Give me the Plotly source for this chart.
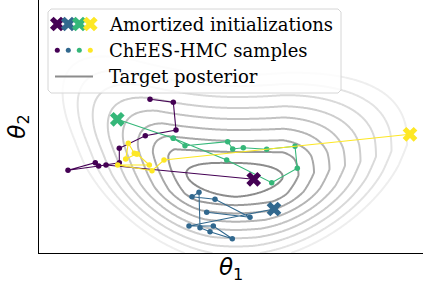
import numpy as np
import plotly.graph_objects as go

# ---------------- data (theta units) ----------------
init_colors = ["#440154", "#31688e", "#35b779", "#fde725"]

init_t1 = [2.147, 2.35, 0.783, 3.71]
init_t2 = [0.737, 0.44, 1.337, 1.187]

purple_t1 = [0.67, 0.29, 0.563, 0.597, 0.803, 0.803, 1.063, 1.37, 1.343, 1.11]
purple_t2 = [0.88, 0.827, 0.903, 0.87, 0.903, 1.047, 1.173, 1.23, 1.507, 1.537]

blue_t1 = [1.50, 1.743, 1.933, 1.71, 1.61, 1.60, 1.53, 1.76, 2.11, 1.677]
blue_t2 = [0.27, 0.27, 0.143, 0.213, 0.253, 0.607, 0.563, 0.537, 0.357, 0.407]

green_t1 = [1.343, 1.46, 1.887, 1.937, 2.043, 2.277, 2.56, 2.583, 2.327, 1.877, 1.343]
green_t2 = [1.147, 1.073, 1.113, 1.04, 1.053, 1.037, 1.067, 0.847, 0.703, 0.93, 1.147]

yellow_t1 = [1.25, 1.13, 0.787, 1.103, 0.983, 0.953, 0.893, 0.867, 0.973]
yellow_t2 = [0.93, 0.823, 0.88, 0.88, 0.99, 0.997, 1.097, 0.94, 0.99]

samples_t1 = [purple_t1, blue_t1, green_t1, yellow_t1]
samples_t2 = [purple_t2, blue_t2, green_t2, yellow_t2]

legend_labels = ["Amortized initializations", "ChEES-HMC samples", "Target posterior"]

# target posterior (banana-shaped) parameters, in theta units
post_center = (1.97, 0.73)
inner_half_w_left = 0.49
inner_half_w_right = 0.47
inner_half_h = 0.17
step_right = 0.155
step_left = 0.14
step_up = 0.11
step_down = 0.083
bend_right = 0.12
bend_left = 0.15
shear_bottom = 0.45
shear_upper_left = 0.5
n_levels = 9

X_RANGE = [0, 3.84]
Y_RANGE = [0, 2.53]

fig = go.Figure()

# ---------------- target posterior contours ----------------
g1 = np.linspace(X_RANGE[0], X_RANGE[1], 320)
g2 = np.linspace(Y_RANGE[0], Y_RANGE[1], 240)
G1, G2 = np.meshgrid(g1, g2)
u = G1 - post_center[0]
w = G2 - post_center[1]
right = u > 0
bend = np.where(right, bend_right, bend_left) * u ** 2
v = w - bend
a_low = np.abs(u) + shear_bottom * np.abs(v)
a_up = np.where(right, u, np.maximum(-(u + shear_upper_left * v), 0.0))
au = np.where(v < 0, a_low, a_up)
av = np.abs(v)
hw = np.where(right, inner_half_w_right, inner_half_w_left)
sh = np.where(right, step_right, step_left)
sv = np.where(v > 0, step_up, step_down)
gu = np.where(au > hw, 1 + (au - hw) / sh, au / hw)
hv = np.where(av > inner_half_h, 1 + (av - inner_half_h) / sv, av / inner_half_h)
Z = np.sqrt(gu ** 2 + hv ** 2)

fig.add_trace(go.Contour(
    x=g1, y=g2, z=Z,
    contours=dict(start=1, end=n_levels, size=1, coloring="lines"),
    colorscale=[[0, "rgb(140,140,140)"], [0.5, "rgb(195,195,195)"], [1, "rgb(238,238,238)"]],
    zmin=1, zmax=n_levels,
    line=dict(width=2, smoothing=1.0),
    showscale=False, hoverinfo="skip",
))

# ---------------- chains ----------------
for k in range(4):
    xs = [init_t1[k]] + samples_t1[k]
    ys = [init_t2[k]] + samples_t2[k]
    fig.add_trace(go.Scatter(
        x=xs, y=ys, mode="lines",
        line=dict(color=init_colors[k], width=1.1), showlegend=False, hoverinfo="skip"))
    fig.add_trace(go.Scatter(
        x=samples_t1[k], y=samples_t2[k], mode="markers",
        marker=dict(color=init_colors[k], size=5.5, line=dict(width=0)),
        showlegend=False, hoverinfo="skip"))
for k in range(4):
    fig.add_trace(go.Scatter(
        x=[init_t1[k]], y=[init_t2[k]], mode="markers",
        marker=dict(color=init_colors[k], size=13, symbol="x", line=dict(width=0)),
        showlegend=False, hoverinfo="skip"))

# ---------------- hand-made legend (overlay axes in pixel units) ----------------
box_l, box_r, box_t, box_b, rad = 48, 341, 9, 93, 3
bx = [box_l + rad, box_r - rad, box_r, box_r, box_r - rad, box_l + rad, box_l, box_l, box_l + rad]
by = [box_t, box_t, box_t + rad, box_b - rad, box_b, box_b, box_b - rad, box_t + rad, box_t]
fig.add_trace(go.Scatter(x=bx, y=by, xaxis="x2", yaxis="y2", mode="lines", fill="toself",
                         fillcolor="rgba(255,255,255,0.8)", line=dict(color="#d6d6d6", width=1),
                         showlegend=False, hoverinfo="skip"))
glyph_x = [57.3, 68.3, 79.3, 90.3]
row_y = [24, 50.3, 76.5]
fig.add_trace(go.Scatter(x=glyph_x, y=[row_y[0]] * 4, xaxis="x2", yaxis="y2", mode="markers",
                         marker=dict(color=init_colors, size=13, symbol="x", line=dict(width=0)),
                         showlegend=False, hoverinfo="skip"))
fig.add_trace(go.Scatter(x=glyph_x, y=[row_y[1]] * 4, xaxis="x2", yaxis="y2", mode="markers",
                         marker=dict(color=init_colors, size=5, line=dict(width=0)),
                         showlegend=False, hoverinfo="skip"))
fig.add_trace(go.Scatter(x=[55, 93], y=[row_y[2]] * 2, xaxis="x2", yaxis="y2", mode="lines",
                         line=dict(color="rgb(140,140,140)", width=2),
                         showlegend=False, hoverinfo="skip"))
for lab, yy in zip(legend_labels, row_y):
    fig.add_annotation(x=107, y=yy, xref="x2", yref="y2", text=lab, showarrow=False,
                       xanchor="left", yanchor="middle",
                       font=dict(family="DejaVu Serif", size=18, color="black"))

# axis labels
fig.add_annotation(x=0.5, y=0.005, xref="paper", yref="paper", text="<i>θ</i><sub>1</sub>",
                   showarrow=False, xanchor="center", yanchor="top",
                   font=dict(family="DejaVu Sans", size=23, color="black"))
fig.add_annotation(x=-0.01, y=0.5, xref="paper", yref="paper", text="<i>θ</i><sub>2</sub>",
                   showarrow=False, xanchor="right", yanchor="middle", textangle=-90,
                   font=dict(family="DejaVu Sans", size=23, color="black"))

ax_common = dict(showgrid=False, zeroline=False, showticklabels=False, ticks="")
fig.update_layout(
    width=423, height=282,
    margin=dict(l=39, r=0, t=0, b=29, autoexpand=False),
    paper_bgcolor="white", plot_bgcolor="white",
    xaxis=dict(range=X_RANGE, showline=True, linecolor="black", linewidth=1.2, **ax_common),
    yaxis=dict(range=Y_RANGE, showline=True, linecolor="black", linewidth=1.2, **ax_common),
    xaxis2=dict(range=[39, 423], overlaying="x", visible=False, anchor="y2"),
    yaxis2=dict(range=[253, 0], overlaying="y", visible=False, anchor="x2"),
    showlegend=False,
)

fig.write_html("out.html", config={"displayModeBar": False},
               post_script="document.body.style.margin='0';document.body.style.overflow='hidden';")
